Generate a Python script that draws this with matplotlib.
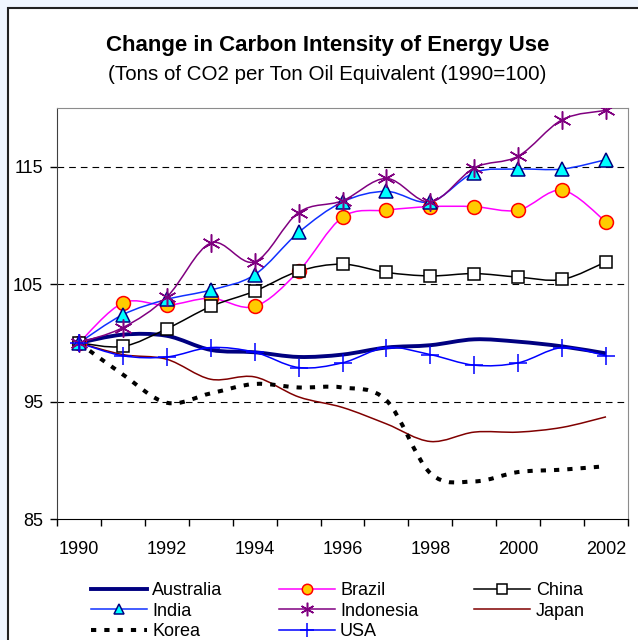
import numpy as np
import matplotlib
matplotlib.use("Agg")
import matplotlib.pyplot as plt
from matplotlib.path import Path
from matplotlib.patches import PathPatch, Rectangle
from matplotlib.lines import Line2D

plt.rcParams['font.family'] = ['Liberation Sans', 'DejaVu Sans']

# Values (index, 1990 = 100)
years = [1990, 1991, 1992, 1993, 1994, 1995, 1996, 1997, 1998, 1999, 2000, 2001, 2002]
australia = [100, 100.7, 100.6, 99.4, 99.2, 98.8, 99.0, 99.6, 99.8, 100.3, 100.1, 99.7, 99.1]
brazil = [100, 103.4, 103.2, 103.8, 103.1, 106.1, 110.7, 111.3, 111.6, 111.6, 111.3, 113.0, 110.3]
china = [100, 99.7, 101.2, 103.1, 104.4, 106.1, 106.7, 106.0, 105.7, 105.9, 105.6, 105.4, 106.9]
india = [100, 102.4, 103.7, 104.5, 105.8, 109.4, 112.0, 112.9, 112.0, 114.5, 114.8, 114.8, 115.6]
indonesia = [100, 101.3, 103.9, 108.5, 106.9, 111.1, 112.1, 114.0, 112.0, 114.9, 115.9, 119.0, 119.8]
japan = [100, 99.0, 98.6, 96.9, 97.1, 95.4, 94.5, 93.1, 91.6, 92.4, 92.4, 92.8, 93.7]
korea = [100, 97.3, 94.9, 95.7, 96.5, 96.2, 96.2, 95.1, 88.9, 88.2, 89.0, 89.2, 89.5]
usa = [100, 98.9, 98.8, 99.6, 99.2, 97.9, 98.3, 99.6, 99.0, 98.1, 98.3, 99.6, 98.9]

year_labels = ["1990", "1992", "1994", "1996", "1998", "2000", "2002"]
y_ticks = [85, 95, 105, 115]


def smooth_path(x, y):
    """Excel-like smoothed line: Catmull-Rom segments as cubic Bezier curves."""
    pts = np.column_stack([x, y]).astype(float)
    n = len(pts)
    verts = [pts[0]]
    codes = [Path.MOVETO]
    for i in range(n - 1):
        p0 = pts[max(i - 1, 0)]
        p1 = pts[i]
        p2 = pts[i + 1]
        p3 = pts[min(i + 2, n - 1)]
        verts += [p1 + (p2 - p0) / 6, p2 - (p3 - p1) / 6, p2]
        codes += [Path.CURVE4] * 3
    return Path(verts, codes)


korea_dash = (0, (1.3, 2.0))

# name, values, line style, marker style
series = [
    ("Australia", australia, dict(color="#000080", lw=2.8), None),
    ("Brazil", brazil, dict(color="#FF00FF", lw=1.1),
     dict(marker="o", ms=10, mfc="#FFCC00", mec="#FF0000", mew=1.1)),
    ("China", china, dict(color="black", lw=1.1),
     dict(marker="s", ms=9, mfc="white", mec="black", mew=1.1)),
    ("India", india, dict(color="#1030FF", lw=1.1),
     dict(marker="^", ms=10, mfc="#00FFFF", mec="#000080", mew=1.1)),
    ("Indonesia", indonesia, dict(color="#800080", lw=1.1),
     dict(marker=(6, 2, 0), ms=13, mfc="#800080", mec="#800080", mew=1.1)),
    ("Japan", japan, dict(color="#800000", lw=1.1), None),
    ("Korea", korea, dict(color="black", lw=2.9, ls=korea_dash), None),
    ("USA", usa, dict(color="#0000FF", lw=1.1),
     dict(marker="+", ms=13, mfc="#0000FF", mec="#0000FF", mew=1.1)),
]

fig = plt.figure(figsize=(6.38, 6.40), dpi=100, facecolor="#F0F6FF")
# chart area border
fig.patches.append(Rectangle((8 / 638, -0.05), 1.0, 1.05 - 7.5 / 640,
                             transform=fig.transFigure, facecolor="white",
                             edgecolor="#222222", lw=1.5, zorder=-10))

ax = fig.add_axes([57 / 638, 1 - 519 / 640, 571 / 638, 411 / 640])
ax.set_facecolor("white")

handles = {}
for name, vals, lstyle, mstyle in series:
    patch = PathPatch(smooth_path(years, vals), fill=False,
                      edgecolor=lstyle["color"], lw=lstyle["lw"],
                      linestyle=lstyle.get("ls", "-"), capstyle="butt", zorder=3)
    ax.add_patch(patch)
    if mstyle:
        ax.plot(years, vals, linestyle="none", zorder=4, **mstyle)
    handles[name] = Line2D([], [], color=lstyle["color"], lw=lstyle["lw"],
                           linestyle=lstyle.get("ls", "-"), dash_capstyle="butt",
                           **(mstyle or {}))

ax.set_xlim(1989.5, 2002.5)
ax.set_ylim(85, 120)

# category axis: tick marks between years, labels every other year
ax.set_xticks(np.arange(1989.5, 2003, 1.0))
ax.set_xticklabels([])
ax.set_xticks([int(s) for s in year_labels], minor=True)
ax.set_xticklabels(year_labels, minor=True)
ax.tick_params(axis="x", which="major", direction="out", length=5, width=1)
ax.tick_params(axis="x", which="minor", length=0, pad=16, labelsize=13)

ax.set_yticks(y_ticks)
ax.tick_params(axis="y", direction="out", length=5, width=1, pad=5, labelsize=13)

for v in y_ticks[1:]:
    ax.axhline(v, color="black", lw=0.8, linestyle=(0, (6, 4.5)), zorder=1)

ax.spines["left"].set_color("#404040")
ax.spines["bottom"].set_color("black")
ax.spines["top"].set_color("#8C8C8C")
ax.spines["right"].set_color("#8C8C8C")

fig.text(0.513, 1 - 46 / 640, "Change in Carbon Intensity of Energy Use",
         ha="center", va="center", fontsize=16, fontweight="bold")
fig.text(0.513, 1 - 75 / 640, "(Tons of CO2 per Ton Oil Equivalent (1990=100)",
         ha="center", va="center", fontsize=14.8)

order = ["Australia", "India", "Korea", "Brazil", "Indonesia", "USA", "China", "Japan"]
fig.legend([handles[n] for n in order], order, ncol=3, frameon=False,
           loc="upper left", bbox_to_anchor=(82 / 638, 1 - 573 / 640),
           fontsize=13, handlelength=3.1, handletextpad=0.3, markerscale=0.75,
           columnspacing=3.1, labelspacing=0.2, borderpad=0)

fig.savefig("out.png", dpi=100, facecolor=fig.get_facecolor())
